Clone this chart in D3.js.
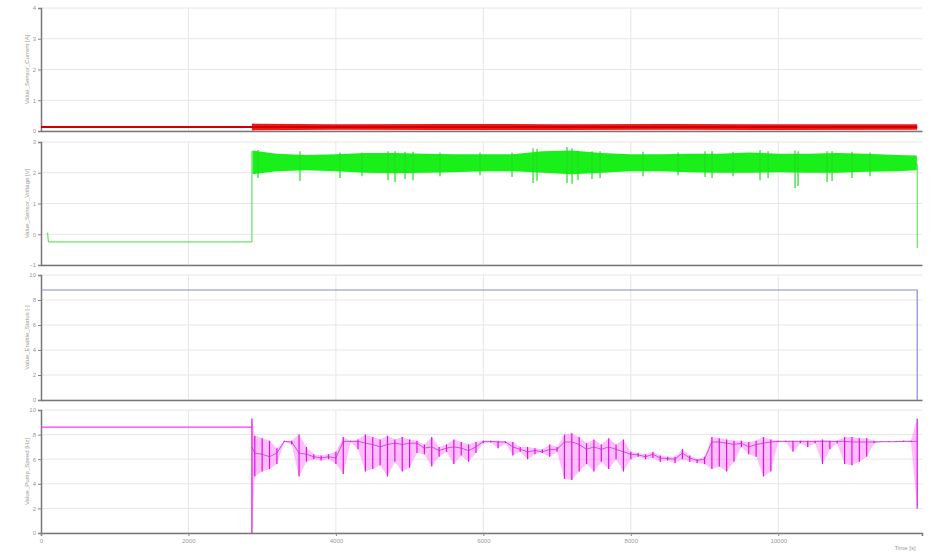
<!DOCTYPE html>
<html><head><meta charset="utf-8">
<script src="https://cdn.jsdelivr.net/npm/d3@7"></script>
<style>body{margin:0;background:#fff}svg{display:block}</style>
</head><body><div id="chart"></div>
<script>
// time axis (s)
const xTicks = [0, 2000, 4000, 6000, 8000, 10000];
const xTickLabels = ["0", "2000", "4000", "6000", "8000", "10000"];
const xTitle = "Time [s]";

// panel titles + y ticks
const yTitles = ["Value_Sensor_Current [A]", "Value_Sensor_Voltage [V]", "Value_Enable_Status [-]", "Value_Pump_Speed [Hz]"];
const yTicks1 = [0, 1, 2, 3, 4];
const yTicks2 = [-1, 0, 1, 2, 3];
const yTicks3 = [0, 2, 4, 6, 8, 10];
const yTicks4 = [0, 2, 4, 6, 8, 10];

// panel 1 (red): flat level, then noisy band
const redLineT = [0, 11885];
const redLineV = [0.13, 0.13];
const redBandT = [2861, 4000, 5500, 7000, 8500, 10000, 11885];
const redBandLo = [0.02, 0.04, 0.03, 0.03, 0.04, 0.03, 0.04];
const redBandHi = [0.24, 0.22, 0.23, 0.22, 0.23, 0.22, 0.22];

// panel 2 (green)
const greenFlatT = [90, 100, 2861, 2861];
const greenFlatV = [0.05, -0.25, -0.25, 2.7];
const greenBandT = [2870, 3200, 3600, 4000, 4400, 4800, 5200, 5600, 6000, 6400, 6800, 7200, 7600, 8000, 8400, 8800, 9200, 9600, 10000, 10400, 10800, 11200, 11600, 11880];
const greenBandLo = [1.95, 2.05, 2.08, 2.05, 2.0, 1.98, 2.0, 2.02, 2.05, 2.05, 2.0, 1.95, 2.0, 2.05, 2.05, 2.02, 2.0, 2.0, 2.02, 2.0, 2.0, 2.03, 2.05, 2.08];
const greenBandHi = [2.72, 2.62, 2.58, 2.6, 2.64, 2.64, 2.62, 2.6, 2.6, 2.6, 2.7, 2.72, 2.64, 2.6, 2.6, 2.62, 2.62, 2.66, 2.62, 2.62, 2.64, 2.62, 2.58, 2.56];
const greenSpikeT = [2944, 3513, 4056, 4354, 4707, 4802, 4938, 5046, 5412, 5955, 6389, 6674, 6728, 7135, 7203, 7284, 7474, 7583, 8166, 8641, 9007, 9102, 9387, 9753, 9862, 10228, 10269, 10662, 10730, 11001, 11245];
const greenSpikeLo = [1.83, 1.73, 1.83, 1.89, 1.76, 1.70, 1.80, 1.76, 1.89, 1.92, 1.86, 1.67, 1.73, 1.67, 1.64, 1.76, 1.80, 1.83, 1.89, 1.92, 1.86, 1.83, 1.89, 1.76, 1.83, 1.50, 1.57, 1.70, 1.73, 1.83, 1.89];
const greenSpikeHi = [2.74, 2.7, 2.66, 2.66, 2.7, 2.7, 2.68, 2.68, 2.66, 2.66, 2.66, 2.80, 2.77, 2.84, 2.80, 2.72, 2.7, 2.7, 2.68, 2.66, 2.7, 2.7, 2.68, 2.74, 2.7, 2.72, 2.7, 2.7, 2.7, 2.68, 2.66];
const greenEndT = [11885, 11885];
const greenEndV = [2.3, -0.45];

// panel 3 (blue)
const blueT = [0, 11885, 11885];
const blueV = [8.8, 8.8, 0];

// panel 4 (magenta): flat start, then min/max per 100 s plus the running level
const magFlatT = [0, 2861];
const magFlatV = [8.6, 8.6];
const magT = [2861, 2900, 3000, 3100, 3200, 3300, 3400, 3500, 3600, 3700, 3800, 3900, 4000, 4100, 4200, 4300, 4400, 4500, 4600, 4700, 4800, 4900, 5000, 5100, 5200, 5300, 5400, 5500, 5600, 5700, 5800, 5900, 6000, 6100, 6200, 6300, 6400, 6500, 6600, 6700, 6800, 6900, 7000, 7100, 7200, 7300, 7400, 7500, 7600, 7700, 7800, 7900, 8000, 8100, 8200, 8300, 8400, 8500, 8600, 8700, 8800, 8900, 9000, 9100, 9200, 9300, 9400, 9500, 9600, 9700, 9800, 9900, 10000, 10100, 10200, 10300, 10400, 10500, 10600, 10700, 10800, 10900, 11000, 11100, 11200, 11300, 11400, 11500, 11600, 11700, 11800, 11885];
const magLo = [0.0, 4.6, 5.0, 5.2, 5.6, 7.4, 7.2, 4.6, 5.8, 6.0, 5.9, 6.0, 5.6, 4.8, 7.4, 6.8, 5.0, 5.2, 5.5, 4.6, 5.8, 5.0, 5.3, 6.5, 6.4, 5.4, 6.2, 6.6, 5.6, 6.3, 5.8, 6.5, 7.3, 7.35, 6.9, 7.3, 6.3, 6.6, 6.0, 6.4, 6.5, 6.2, 6.6, 4.4, 4.3, 5.0, 5.6, 5.0, 5.8, 5.2, 6.0, 5.0, 6.0, 6.2, 6.0, 6.1, 5.8, 5.9, 5.7, 6.0, 5.8, 5.7, 5.6, 5.2, 5.4, 5.0, 5.8, 7.0, 6.4, 6.2, 4.6, 5.0, 7.4, 7.4, 6.6, 7.3, 7.0, 7.3, 5.6, 6.8, 7.3, 5.6, 5.5, 5.8, 6.2, 7.3, 7.4, 7.4, 7.4, 7.4, 7.4, 2.0];
const magHi = [9.3, 7.9, 7.7, 7.5, 6.9, 7.5, 7.5, 8.0, 7.0, 6.4, 6.3, 6.4, 6.6, 7.8, 7.5, 7.6, 8.0, 7.8, 7.6, 7.9, 7.6, 7.8, 7.6, 7.5, 7.2, 7.8, 7.0, 7.2, 7.6, 7.4, 7.2, 7.4, 7.5, 7.5, 7.5, 7.45, 7.4, 7.0, 7.0, 6.9, 6.8, 7.2, 7.0, 8.0, 8.1, 7.8, 7.3, 7.6, 7.2, 7.7, 7.2, 7.6, 6.6, 6.5, 6.4, 6.6, 6.3, 6.2, 6.2, 6.8, 6.3, 6.0, 6.2, 7.8, 7.7, 7.6, 7.5, 7.5, 7.4, 7.5, 7.8, 7.6, 7.5, 7.5, 7.5, 7.5, 7.5, 7.5, 7.6, 7.5, 7.5, 7.8, 7.8, 7.7, 7.7, 7.5, 7.45, 7.45, 7.45, 7.5, 7.5, 9.3];
const magBase = [7.0, 6.5, 6.4, 6.2, 6.5, 7.45, 7.4, 6.5, 6.4, 6.2, 6.1, 6.2, 6.1, 7.45, 7.45, 7.45, 7.3, 7.2, 7.0, 7.2, 7.3, 7.2, 7.3, 7.3, 6.9, 7.0, 6.7, 6.9, 7.0, 6.9, 6.7, 7.0, 7.45, 7.45, 7.4, 7.4, 7.0, 6.8, 6.6, 6.7, 6.6, 6.8, 6.8, 7.4, 7.4, 7.2, 6.8, 7.0, 6.8, 7.0, 6.8, 6.6, 6.4, 6.35, 6.2, 6.4, 6.1, 6.05, 6.0, 6.5, 6.1, 5.9, 6.0, 7.4, 7.4, 7.3, 7.2, 7.3, 7.0, 7.2, 7.3, 7.4, 7.45, 7.45, 7.45, 7.45, 7.45, 7.45, 7.45, 7.45, 7.45, 7.45, 7.4, 7.4, 7.4, 7.4, 7.42, 7.42, 7.42, 7.45, 7.45, 7.45];

// ---- layout ----
const W = 943, H = 553;
const left = 41, right = 922;
const panels = [
  { top: 8, bottom: 131, domain: [0, 4], ticks: yTicks1 },
  { top: 142, bottom: 265, domain: [-1, 3], ticks: yTicks2 },
  { top: 275, bottom: 400, domain: [0, 10], ticks: yTicks3 },
  { top: 410, bottom: 533, domain: [0, 10], ticks: yTicks4 },
];

const svg = d3.select("#chart").append("svg").attr("width", W).attr("height", H);
const x = d3.scaleLinear().domain([0, 11950]).range([left, right]);
const font = "Liberation Sans, Arial, sans-serif";

panels.forEach((p, i) => {
  p.y = d3.scaleLinear().domain(p.domain).range([p.bottom, p.top]);
  const g = svg.append("g");
  // grid
  g.selectAll(".hg").data(p.ticks).join("line")
    .attr("x1", left).attr("x2", right).attr("y1", (d) => p.y(d)).attr("y2", (d) => p.y(d))
    .attr("stroke", "#e6e6e6").attr("stroke-width", 1);
  g.selectAll(".vg").data(xTicks.slice(1)).join("line")
    .attr("x1", (d) => x(d)).attr("x2", (d) => x(d)).attr("y1", p.top).attr("y2", p.bottom)
    .attr("stroke", "#e6e6e6").attr("stroke-width", 1);
  // axes
  g.append("g").attr("transform", `translate(${left},0)`)
    .call(d3.axisLeft(p.y).tickValues(p.ticks).tickSize(3).tickPadding(2).tickFormat(d3.format("d")))
    .call((s) => s.selectAll("text").attr("fill", "#999").style("font-family", font).style("font-size", "6px"))
    .call((s) => s.selectAll("line").attr("stroke", "#888"))
    .call((s) => s.select(".domain").attr("stroke", "#777").attr("stroke-width", 1.5));
  g.append("g").attr("transform", `translate(0,${p.bottom})`)
    .call(d3.axisBottom(x).tickValues(xTicks).tickSize(i === 3 ? 3 : 0).tickFormat((d, k) => (i === 3 ? xTickLabels[k] : "")))
    .call((s) => s.selectAll("text").attr("fill", "#999").style("font-family", font).style("font-size", "6px"))
    .call((s) => s.selectAll("line").attr("stroke", "#888"))
    .call((s) => s.select(".domain").attr("stroke", "#777").attr("stroke-width", 1.5));
  g.append("text").attr("transform", `translate(29,${(p.top + p.bottom) / 2}) rotate(-90)`)
    .attr("text-anchor", "middle").attr("fill", "#999").style("font-family", font).style("font-size", "6px")
    .text(yTitles[i]);
});

svg.append("text").attr("x", 905).attr("y", 550).attr("text-anchor", "middle")
  .attr("fill", "#999").style("font-family", font).style("font-size", "6px").text(xTitle);

const zip2 = (a, b) => a.map((t, k) => [t, b[k]]);
const zip3 = (a, b, c) => a.map((t, k) => [t, b[k], c[k]]);
const line = (p) => d3.line().x((d) => x(d[0])).y((d) => p.y(d[1]));
const band = (p) => d3.area().x((d) => x(d[0])).y0((d) => p.y(d[1])).y1((d) => p.y(d[2]));

// panel 1 red
{
  const p = panels[0];
  svg.append("path").datum(zip3(redBandT, redBandLo, redBandHi)).attr("d", band(p)).attr("fill", "#ee1a1a");
  svg.append("path").datum(zip2(redLineT, redLineV)).attr("d", line(p)).attr("fill", "none").attr("stroke", "#d00000").attr("stroke-width", 2);
}
// panel 2 green
{
  const p = panels[1];
  svg.append("path").datum(zip2(greenFlatT, greenFlatV)).attr("d", line(p)).attr("fill", "none").attr("stroke", "#44dd44").attr("stroke-width", 1);
  svg.append("path").datum(zip3(greenBandT, greenBandLo, greenBandHi)).attr("d", band(p)).attr("fill", "#19ef19");
  svg.selectAll(".gs").data(zip3(greenSpikeT, greenSpikeLo, greenSpikeHi)).join("line")
    .attr("x1", (d) => x(d[0])).attr("x2", (d) => x(d[0])).attr("y1", (d) => p.y(d[1])).attr("y2", (d) => p.y(d[2]))
    .attr("stroke", "#22dd22").attr("stroke-width", 1.2);
  svg.append("path").datum(zip2(greenEndT, greenEndV)).attr("d", line(p)).attr("fill", "none").attr("stroke", "#44dd44").attr("stroke-width", 1);
}
// panel 3 blue
{
  const p = panels[2];
  svg.append("path").datum(zip2(blueT, blueV)).attr("d", line(p)).attr("fill", "none").attr("stroke", "#8a8ad0").attr("stroke-width", 1.2);
}
// panel 4 magenta
{
  const p = panels[3];
  svg.append("path").datum(zip2(magFlatT, magFlatV)).attr("d", line(p)).attr("fill", "none").attr("stroke", "#ff33ff").attr("stroke-width", 1.2);
  const rows = zip3(magT, magLo, magHi);
  svg.append("path").datum(rows).attr("d", band(p)).attr("fill", "#ff70ff").attr("fill-opacity", 0.45);
  svg.append("path").datum(zip2(magT, magBase)).attr("d", line(p))
    .attr("fill", "none").attr("stroke", "#b040c8").attr("stroke-width", 0.8);
  svg.selectAll(".ms").data(rows).join("line")
    .attr("x1", (d) => x(d[0])).attr("x2", (d) => x(d[0])).attr("y1", (d) => p.y(d[1])).attr("y2", (d) => p.y(d[2]))
    .attr("stroke", "#e010e0").attr("stroke-width", 1.2);
}
</script></body></html>
